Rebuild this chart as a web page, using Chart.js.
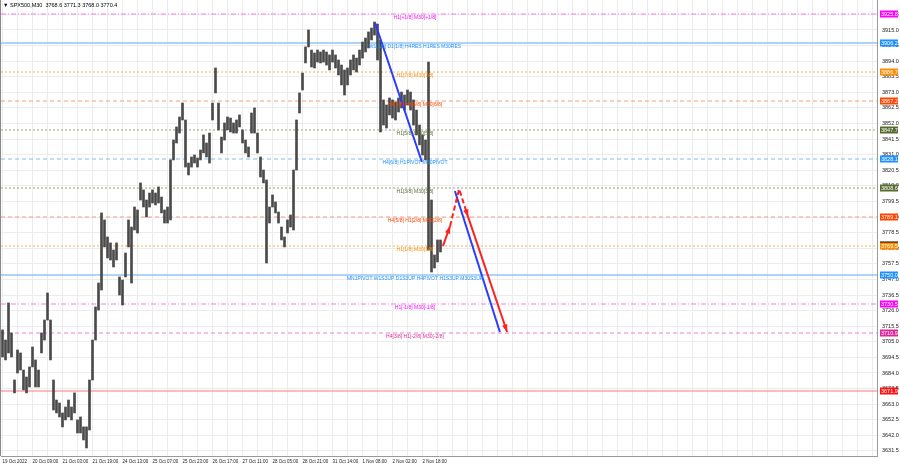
<!DOCTYPE html>
<html>
<head>
<meta charset="utf-8">
<script src="https://cdn.jsdelivr.net/npm/chart.js@4.4.0/dist/chart.umd.min.js"></script>
<style>
  html, body { margin: 0; padding: 0; background: #fff; }
  #wrap { width: 900px; height: 468px; position: relative; }
</style>
</head>
<body>
<div id="wrap"><canvas id="spxChart"></canvas></div>
<script>
// SPX500 M30, one slot = a group of bars, high / low per slot
var slotHigh = [3713.0, 3706.2, 3731.2, 3711.0, 3679.3, 3699.5, 3697.5, 3686.0, 3681.3, 3688.1,
    3701.5, 3692.8, 3686.0, 3711.0, 3719.7, 3737.9, 3719.7, 3679.3, 3665.8, 3663.8,
    3657.1, 3661.1, 3665.8, 3661.1, 3670.6, 3652.4, 3654.4, 3647.7, 3647.7, 3679.3,
    3706.2, 3728.5, 3744.6, 3791.8, 3787.1, 3775.6, 3771.6, 3766.8, 3771.6, 3748.7,
    3746.6, 3764.8, 3787.1, 3782.3, 3795.8, 3793.8, 3812.0, 3807.3, 3800.5, 3805.2,
    3807.3, 3805.2, 3809.3, 3802.5, 3793.8, 3795.8, 3827.5, 3840.9, 3849.7, 3856.4,
    3865.8, 3854.4, 3825.4, 3829.5, 3830.8, 3828.8, 3834.2, 3844.3, 3838.9, 3845.6,
    3865.8, 3889.4, 3865.8, 3842.9, 3852.4, 3856.4, 3855.7, 3852.4, 3854.4, 3857.8,
    3847.7, 3840.9, 3836.2, 3859.1, 3862.5, 3845.6, 3829.5, 3820.7, 3814.0, 3795.8,
    3803.9, 3799.2, 3792.4, 3782.3, 3775.6, 3787.1, 3790.4, 3820.7, 3854.4, 3872.6,
    3886.0, 3903.6, 3915.0, 3901.5, 3899.5, 3901.5, 3900.2, 3901.5, 3900.2, 3898.2,
    3901.5, 3898.2, 3894.8, 3891.4, 3888.1, 3889.4, 3894.8, 3898.2, 3896.1, 3901.5,
    3906.9, 3909.6, 3913.7, 3916.3, 3920.4, 3919.0, 3908.3, 3867.9, 3864.5, 3869.2,
    3867.9, 3866.5, 3869.2, 3873.2, 3871.2, 3874.6, 3873.2, 3867.9, 3861.1, 3851.0,
    3844.3, 3840.9, 3893.4, 3800.5, 3763.5, 3773.6, 3773.6];
var slotLow = [3694.8, 3692.8, 3697.5, 3694.8, 3670.6, 3684.0, 3686.0, 3672.6, 3670.6, 3674.6,
    3688.1, 3674.6, 3674.6, 3697.5, 3706.2, 3719.7, 3692.8, 3659.1, 3657.1, 3654.4,
    3647.7, 3652.4, 3654.4, 3652.4, 3657.1, 3643.6, 3643.6, 3638.9, 3633.5, 3645.6,
    3679.3, 3706.2, 3726.4, 3739.9, 3768.9, 3761.5, 3760.1, 3755.4, 3760.1, 3736.5,
    3729.8, 3748.7, 3768.9, 3744.6, 3780.3, 3778.3, 3800.5, 3795.8, 3789.1, 3795.8,
    3798.5, 3797.2, 3798.5, 3791.8, 3785.0, 3785.0, 3787.1, 3827.5, 3838.9, 3845.6,
    3854.4, 3822.7, 3817.4, 3822.7, 3825.4, 3822.7, 3827.5, 3832.2, 3829.5, 3825.4,
    3854.4, 3872.6, 3847.7, 3832.2, 3840.9, 3847.7, 3846.3, 3845.6, 3845.6, 3849.7,
    3838.9, 3832.2, 3829.5, 3845.6, 3845.6, 3832.2, 3816.0, 3812.0, 3758.1, 3785.0,
    3795.8, 3791.8, 3785.0, 3773.6, 3768.9, 3778.3, 3782.3, 3780.3, 3820.7, 3859.1,
    3874.6, 3892.8, 3903.6, 3890.1, 3889.4, 3893.4, 3892.8, 3893.4, 3891.4, 3888.1,
    3893.4, 3889.4, 3884.7, 3878.0, 3871.2, 3878.0, 3884.7, 3888.1, 3886.7, 3891.4,
    3896.1, 3900.2, 3902.9, 3908.3, 3911.6, 3894.8, 3846.3, 3851.0, 3849.0, 3857.8,
    3855.7, 3854.4, 3859.8, 3862.5, 3861.1, 3864.5, 3861.1, 3851.0, 3844.3, 3837.6,
    3830.8, 3827.5, 3766.8, 3752.0, 3754.7, 3758.8, 3765.5];

var dateLabels = ['19 Oct 2022', '20 Oct 09:00', '21 Oct 03:00', '21 Oct 19:00', '24 Oct 13:00',
    '25 Oct 07:00', '25 Oct 23:00', '26 Oct 17:00', '27 Oct 11:00', '28 Oct 05:00',
    '28 Oct 21:00', '31 Oct 14:00', '1 Nov 08:00', '2 Nov 02:00', '2 Nov 18:00'];

var priceTicks = ['3631.5', '3642.0', '3652.5', '3663.0', '3673.5', '3684.0', '3694.5', '3705.0',
    '3715.5', '3726.0', '3736.5', '3747.0', '3757.5', '3768.0', '3778.5', '3789.0', '3799.5',
    '3810.0', '3820.5', '3831.0', '3841.5', '3852.0', '3862.5', '3873.0', '3883.5', '3894.0',
    '3904.5', '3915.0', '3925.5'];

// murrey levels
var levelValues = [3925.8, 3906.2, 3886.7, 3867.2, 3847.7, 3828.1, 3808.6, 3789.1, 3769.5,
    3750.0, 3730.5, 3710.9, 3671.9];
var levelTexts = ['H1[+1/8] M30[+1/8]', 'W1[1/8] D1[1/8] H4RES H1RES M30RES', 'H1[7/8] M30[7/8]',
    'H4[7/8] H1[6/8] M30[6/8]', 'H1[5/8] M30[5/8]', 'H4[6/8] H1PIVOT M30PIVOT', 'H1[3/8] M30[3/8]',
    'H4[5/8] H1[2/8] M30[2/8]', 'H1[1/8] M30[1/8]', 'MN1PIVOT W1S3UP D1S3UP H4PIVOT H1S3UP M30S3UP',
    'H1[-1/8] M30[-1/8]', 'H4[3/8] H1[-2/8] M30[-2/8]', ''];

// last candle: open, high, low, close
var lastOHLC = [3768.6, 3771.3, 3768.0, 3770.4];

// drawn trend line and projection (slot, price)
var trendX = [124.2, 139.8], trendY = [3919.7, 3826.1];
var redUpX = [146.8, 149.2], redUpY = [3769.5, 3783.0];
var redPeakX = [149.2, 152.2, 155.2], redPeakY = [3783.0, 3807.9, 3789.1];
var redDownX = [155.2, 168.2], redDownY = [3789.1, 3711.6];
var blueDownX = [150.8, 165.8], blueDownY = [3806.6, 3711.6];

var levelStyles = [
    { line: '#f37ef3', width: 1.2, dash: [5, 2, 1, 2], color: '#ff00ff' },
    { line: '#add3f6', width: 2.2, dash: [], color: '#1e90ff' },
    { line: '#f7bc78', width: 1.2, dash: [2, 2], color: '#ff8c00' },
    { line: '#f89c80', width: 1.2, dash: [4, 3], color: '#ff4500' },
    { line: '#a7b190', width: 1.2, dash: [2, 2], color: '#556b2f' },
    { line: '#80bbf4', width: 1.2, dash: [4, 3], color: '#1e90ff' },
    { line: '#a7b190', width: 1.2, dash: [2, 2], color: '#556b2f' },
    { line: '#f89c80', width: 1.2, dash: [4, 3], color: '#ff4500' },
    { line: '#f7bc78', width: 1.2, dash: [2, 2], color: '#ff8c00' },
    { line: '#62a8f2', width: 1.2, dash: [], color: '#1e90ff' },
    { line: '#f37ef3', width: 1.2, dash: [5, 2, 1, 2], color: '#ff00ff' },
    { line: '#ef80c4', width: 1.2, dash: [4, 3], color: '#e0289a' },
    { line: '#ff7878', width: 1.2, dash: [], color: '#ff1010' }
];
var labelSlot = 137.5;
var FONT = '"Liberation Sans", Arial, sans-serif';

function pts(xs, ys) {
    return xs.map(function(v, i) { return { x: v, y: ys[i] }; });
}

function noPad(scale) {
    scale.paddingTop = 0;
    scale.paddingBottom = 0;
    scale.paddingLeft = 0;
    scale.paddingRight = 0;
}

// levels, texts, price boxes, title, arrowheads
var mtPlugin = {
    id: 'mtOverlay',
    beforeDatasetsDraw: function(chart) {
        var ctx = chart.ctx, a = chart.chartArea, y = chart.scales.y;
        ctx.save();
        levelValues.forEach(function(v, i) {
            var st = levelStyles[i];
            var py = Math.round(y.getPixelForValue(v));
            ctx.beginPath();
            ctx.strokeStyle = st.line;
            ctx.lineWidth = st.width;
            ctx.setLineDash(st.dash);
            ctx.moveTo(a.left, py);
            ctx.lineTo(a.right, py);
            ctx.stroke();
        });
        ctx.restore();
    },
    afterDatasetsDraw: function(chart) {
        var ctx = chart.ctx, x = chart.scales.x, y = chart.scales.y;
        ctx.save();
        ctx.font = '5px ' + FONT;
        ctx.textAlign = 'center';
        ctx.textBaseline = 'top';
        levelValues.forEach(function(v, i) {
            if (!levelTexts[i]) return;
            ctx.fillStyle = levelStyles[i].color;
            ctx.fillText(levelTexts[i], x.getPixelForValue(labelSlot), y.getPixelForValue(v) + 1);
        });

        // arrowheads
        function head(xs, ys, color) {
            var n = xs.length;
            var x1 = x.getPixelForValue(xs[n - 2]), y1 = y.getPixelForValue(ys[n - 2]);
            var x2 = x.getPixelForValue(xs[n - 1]), y2 = y.getPixelForValue(ys[n - 1]);
            var ang = Math.atan2(y2 - y1, x2 - x1);
            ctx.fillStyle = color;
            ctx.beginPath();
            ctx.moveTo(x2, y2);
            ctx.lineTo(x2 - 8 * Math.cos(ang - 0.35), y2 - 8 * Math.sin(ang - 0.35));
            ctx.lineTo(x2 - 8 * Math.cos(ang + 0.35), y2 - 8 * Math.sin(ang + 0.35));
            ctx.closePath();
            ctx.fill();
        }
        head(redUpX, redUpY, '#ff2020');
        head(redPeakX, redPeakY, '#ff2020');
        head(redDownX, redDownY, '#ff2020');
        ctx.restore();
    },
    afterDraw: function(chart) {
        var ctx = chart.ctx, a = chart.chartArea, y = chart.scales.y;
        ctx.save();
        // left frame
        ctx.strokeStyle = '#888';
        ctx.lineWidth = 1;
        ctx.beginPath();
        ctx.moveTo(0.5, 0);
        ctx.lineTo(0.5, a.bottom);
        ctx.stroke();

        ctx.font = '5.5px ' + FONT;
        ctx.textBaseline = 'middle';
        ctx.textAlign = 'left';
        function box(v, color) {
            var py = Math.round(y.getPixelForValue(v));
            ctx.fillStyle = color;
            ctx.fillRect(a.right + 3, py - 3.5, 18, 7);
            ctx.fillStyle = '#fff';
            ctx.fillText(v.toFixed(1), a.right + 4, py + 0.5);
        }
        box(lastOHLC[3], '#000');
        levelValues.forEach(function(v, i) { box(v, levelStyles[i].color); });

        // title
        ctx.fillStyle = '#000';
        ctx.font = '5.5px ' + FONT;
        ctx.textBaseline = 'top';
        ctx.fillText('\u25BC SPX500,M30  ' + lastOHLC.map(function(v) { return v.toFixed(1); }).join(' '), 3, 3);
        ctx.restore();
    }
};

var ctx = document.getElementById('spxChart').getContext('2d');
var spxChart = new Chart(ctx, {
    type: 'bar',
    data: {
        datasets: [{
            type: 'bar',
            label: 'SPX500',
            data: slotHigh.map(function(h, i) { return { x: i, y: [slotLow[i], h] }; }),
            backgroundColor: '#4a4a4a',
            barThickness: 2,
            grouped: false,
            order: 5
        }, {
            type: 'line',
            data: pts(trendX, trendY),
            borderColor: '#2a3cff',
            borderWidth: 2,
            pointRadius: 0,
            order: 1
        }, {
            type: 'line',
            data: pts(redUpX, redUpY),
            borderColor: '#ff2020',
            borderWidth: 2,
            pointRadius: 0,
            order: 1
        }, {
            type: 'line',
            data: pts(redPeakX, redPeakY),
            borderColor: '#ff2020',
            borderWidth: 2,
            borderDash: [5, 3],
            pointRadius: 0,
            order: 1
        }, {
            type: 'line',
            data: pts(redDownX, redDownY),
            borderColor: '#ff2020',
            borderWidth: 2,
            pointRadius: 0,
            order: 1
        }, {
            type: 'line',
            data: pts(blueDownX, blueDownY),
            borderColor: '#2a3cff',
            borderWidth: 2,
            pointRadius: 0,
            order: 1
        }]
    },
    options: {
        responsive: true,
        maintainAspectRatio: false,
        animation: false,
        devicePixelRatio: 1,
        events: [],
        layout: { padding: { left: 1, top: 0, right: 0, bottom: 0 } },
        plugins: { legend: { display: false }, tooltip: { enabled: false } },
        scales: {
            x: {
                type: 'linear',
                offset: false,
                min: -0.5,
                max: 291.5,
                afterBuildTicks: function(scale) {
                    var t = [];
                    for (var v = 0; v <= 290; v += 5) t.push({ value: v });
                    scale.ticks = t;
                },
                afterFit: function(scale) { scale.height = 12; noPad(scale); },
                ticks: {
                    autoSkip: false,
                    maxRotation: 0,
                    align: 'start',
                    padding: 3,
                    color: '#222',
                    font: { size: 4.5, family: FONT },
                    callback: function(value) {
                        var k = value / 10;
                        return (value % 10 === 0 && k < dateLabels.length) ? dateLabels[k] : '';
                    }
                },
                grid: { color: '#ececec', drawTicks: false, offset: false },
                border: { color: '#999' }
            },
            y: {
                position: 'right',
                min: 3628.1,
                max: 3935.2,
                afterBuildTicks: function(scale) {
                    scale.ticks = priceTicks.map(function(s) { return { value: parseFloat(s) }; });
                },
                afterFit: function(scale) { scale.width = 23; noPad(scale); },
                ticks: {
                    padding: 5,
                    color: '#222',
                    font: { size: 5.5, family: FONT },
                    callback: function(value) { return value.toFixed(1); }
                },
                grid: { color: '#ececec', drawTicks: false },
                border: { color: '#999' }
            }
        }
    },
    plugins: [mtPlugin]
});
</script>
</body>
</html>
